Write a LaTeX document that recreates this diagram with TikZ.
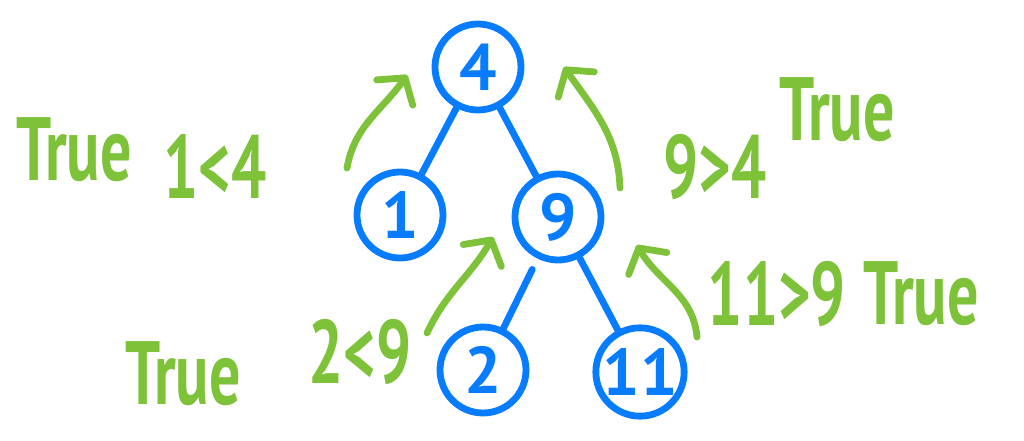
\documentclass[tikz,border=0pt]{standalone}
\usepackage{fontspec}
\setmainfont{PT Sans}
\usepackage{xcolor}
\usepackage{graphicx}
\usetikzlibrary{positioning,arrows.meta}
\definecolor{inkblue}{RGB}{8,124,255}
\definecolor{inkgreen}{RGB}{125,194,57}
\newcommand\tall[1]{\scalebox{1}[1.45]{#1}}
\tikzset{
  vtx/.style={circle,draw=inkblue,line width=3.4pt,minimum size=43pt,inner sep=0pt,text=inkblue,font=\fontsize{33}{33}\selectfont\bfseries},
  link/.style={draw=inkblue,line width=3.4pt,line cap=round},
  hint/.style={draw=inkgreen,line width=3.4pt,line cap=round,-{Straight Barb[length=9pt,width=22pt,round]}},
  note/.style={text=inkgreen,inner sep=0pt,font=\fontsize{31}{31}\selectfont\bfseries},
}
\begin{document}
\begin{tikzpicture}[x=1pt,y=1pt]
  \useasboundingbox (0,0) rectangle (512,220);
  % tree
  \node[vtx] (n4) at (239,186.5) {4};
  \node[vtx,on grid,below left=74pt and 39pt of n4] (n1) {1};
  \node[vtx,on grid,below right=75pt and 40pt of n4] (n9) {9};
  \node[vtx,on grid,below left=76.5pt and 37.5pt of n9] (n2) {2};
  \node[vtx,on grid,below right=77.5pt and 41pt of n9] (n11) {11};
  \draw[link] (n4) -- (n1);
  \draw[link] (n4) -- (n9);
  \draw[link,shorten <=6pt] (n9) -- (n2);
  \draw[link] (n9) -- (n11);
  % checks
  \coordinate (a1s) at (173.5,136);  \coordinate (a1e) at (203.5,182.5);
  \coordinate (a2s) at (310,126);    \coordinate (a2e) at (282,186.5);
  \coordinate (a3s) at (213.5,53.5); \coordinate (a3e) at (246.5,101.5);
  \coordinate (a4s) at (348.5,51.5); \coordinate (a4e) at (318.5,97.5);
  \draw[hint] (a1s) to[out=80,in=235] (a1e);
  \draw[hint] (a2s) to[out=92,in=305] (a2e);
  \draw[hint] (a3s) to[out=65,in=240] (a3e);
  \draw[hint] (a4s) to[out=95,in=300] (a4e);
  % labels
  \node[note] (t1) at (37,145) {\tall{True}};
  \node[note] (c1) at (107.5,137) {\tall{1<4}};
  \node[note] (t2) at (418.5,165) {\tall{True}};
  \node[note] (c2) at (357.5,136.5) {\tall{9>4}};
  \node[note] (c3) at (388.5,73) {\tall{11>9}};
  \node[note] (t3) at (460.5,73) {\tall{True}};
  \node[note] (t4) at (91.5,33) {\tall{True}};
  \node[note] (c4) at (180,44) {\tall{2<9}};
\end{tikzpicture}
\end{document}
